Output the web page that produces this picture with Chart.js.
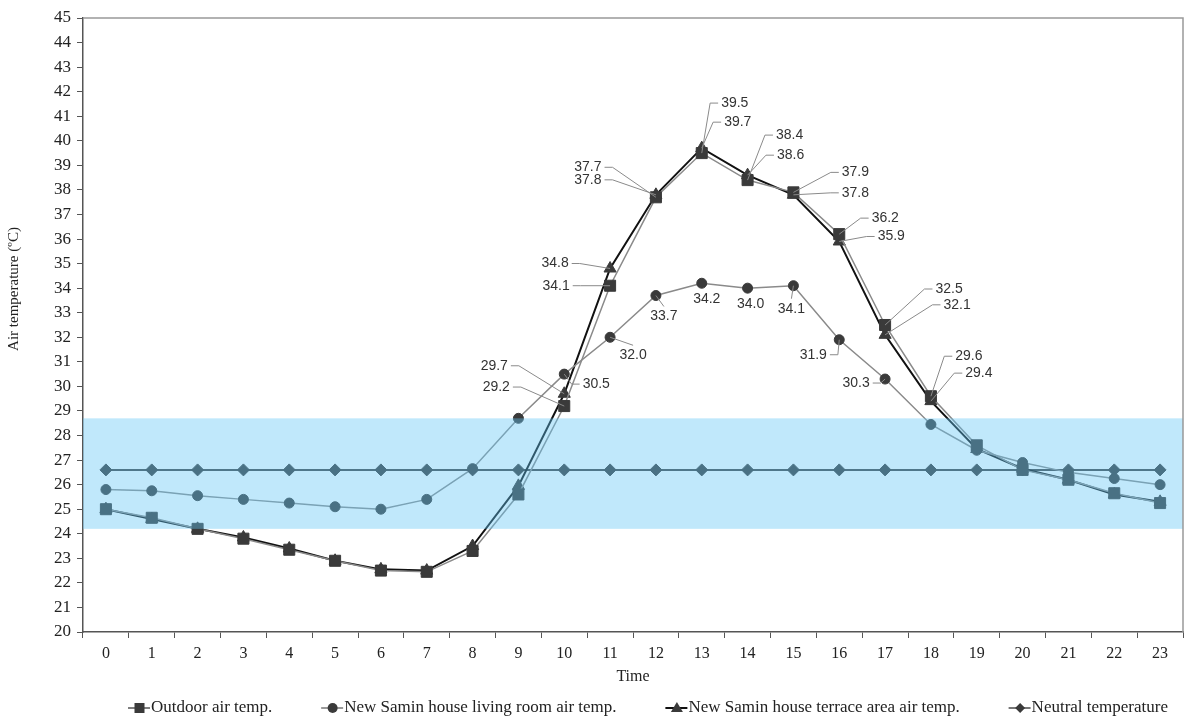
<!DOCTYPE html>
<html lang="en">
<head>
    <meta charset="UTF-8">
    <title>Air temperature - New Samin house</title>
    <script src="https://cdn.jsdelivr.net/npm/chart.js@4.4.0/dist/chart.umd.min.js"></script>
    <style>
        html, body { margin: 0; padding: 0; background: #fff; }
        #wrap { width: 1198px; height: 717px; position: relative; }
    </style>
</head>
<body>
    <div id="wrap"><canvas id="tempChart"></canvas></div>

    <script>
        // hourly values
        const hours = ['0','1','2','3','4','5','6','7','8','9','10','11','12','13','14','15','16','17','18','19','20','21','22','23'];
        const outdoorTemp = [25.0, 24.65, 24.2, 23.8, 23.35, 22.9, 22.5, 22.45, 23.3, 25.6, 29.2, 34.1, 37.7, 39.5, 38.4, 37.9, 36.2, 32.5, 29.6, 27.6, 26.6, 26.2, 25.65, 25.25];
        const livingTemp = [25.8, 25.75, 25.55, 25.4, 25.25, 25.1, 25.0, 25.4, 26.65, 28.7, 30.5, 32.0, 33.7, 34.2, 34.0, 34.1, 31.9, 30.3, 28.45, 27.4, 26.9, 26.5, 26.25, 26.0];
        const terraceTemp = [25.0, 24.6, 24.2, 23.85, 23.4, 22.9, 22.55, 22.5, 23.5, 25.95, 29.7, 34.8, 37.8, 39.7, 38.6, 37.8, 35.9, 32.1, 29.4, 27.45, 26.65, 26.2, 25.6, 25.3];
        const neutralTemp = [26.6, 26.6, 26.6, 26.6, 26.6, 26.6, 26.6, 26.6, 26.6, 26.6, 26.6, 26.6, 26.6, 26.6, 26.6, 26.6, 26.6, 26.6, 26.6, 26.6, 26.6, 26.6, 26.6, 26.6];
        const comfortLow = 24.2;
        const comfortHigh = 28.7;
        const yMin = 20, yMax = 45;

        const seriesNames = ['Outdoor air temp.', 'New Samin house living room air temp.', 'New Samin house terrace area air temp.', 'Neutral temperature'];
        const yTitle = 'Air temperature (ºC)';

        // value callouts: which series / hour, where the text sits relative to the point
        const callouts = [
            { set: 2, i: 10, dx: -70, dy: -28 },
            { set: 0, i: 10, dx: -68, dy: -19 },
            { set: 1, i: 10, dx: 32, dy: 10 },
            { set: 2, i: 11, dx: -55, dy: -5 },
            { set: 0, i: 11, dx: -54, dy: 0 },
            { set: 1, i: 11, dx: 23, dy: 18, below: true },
            { set: 0, i: 12, dx: -68, dy: -30 },
            { set: 2, i: 12, dx: -68, dy: -15 },
            { set: 1, i: 12, dx: 8, dy: 21, below: true },
            { set: 0, i: 13, dx: 33, dy: -50 },
            { set: 2, i: 13, dx: 36, dy: -26 },
            { set: 1, i: 13, dx: 5, dy: 16, noLine: true },
            { set: 0, i: 14, dx: 42, dy: -45 },
            { set: 2, i: 14, dx: 43, dy: -20 },
            { set: 1, i: 14, dx: 3, dy: 16, noLine: true },
            { set: 0, i: 15, dx: 62, dy: -20 },
            { set: 2, i: 15, dx: 62, dy: -2 },
            { set: 1, i: 15, dx: -2, dy: 23, below: true },
            { set: 0, i: 16, dx: 46, dy: -16 },
            { set: 2, i: 16, dx: 52, dy: -5 },
            { set: 1, i: 16, dx: -26, dy: 15 },
            { set: 0, i: 17, dx: 64, dy: -36 },
            { set: 2, i: 17, dx: 72, dy: -30 },
            { set: 1, i: 17, dx: -29, dy: 4 },
            { set: 0, i: 18, dx: 38, dy: -40 },
            { set: 2, i: 18, dx: 48, dy: -28 }
        ];

        const serif = "'Liberation Serif', 'Times New Roman', serif";
        const sans = "'Liberation Sans', Arial, sans-serif";
        const ink = '#3a3a3a';

        // light blue comfort band, laid over the lines like in the original
        const comfortBand = {
            id: 'comfortBand',
            afterDatasetsDraw(chart) {
                const { ctx, chartArea, scales } = chart;
                const top = scales.y.getPixelForValue(comfortHigh);
                const bottom = scales.y.getPixelForValue(comfortLow);
                ctx.save();
                ctx.fillStyle = 'rgba(98, 197, 245, 0.4)';
                ctx.fillRect(chartArea.left, top, chartArea.right - chartArea.left, bottom - top);
                ctx.restore();
            }
        };

        // top/right frame + y title (sits a bit above the axis middle in the original)
        const frame = {
            id: 'frame',
            afterDraw(chart) {
                const { ctx, chartArea } = chart;
                ctx.save();
                ctx.strokeStyle = '#999';
                ctx.lineWidth = 1.5;
                ctx.beginPath();
                ctx.moveTo(chartArea.left, chartArea.top);
                ctx.lineTo(chartArea.right, chartArea.top);
                ctx.lineTo(chartArea.right, chartArea.bottom);
                ctx.stroke();

                ctx.translate(14, 289);
                ctx.rotate(-Math.PI / 2);
                ctx.font = '15px ' + serif;
                ctx.fillStyle = '#222';
                ctx.textAlign = 'center';
                ctx.textBaseline = 'middle';
                ctx.fillText(yTitle, 0, 0);
                ctx.restore();
            }
        };

        const valueCallouts = {
            id: 'valueCallouts',
            afterDraw(chart) {
                const ctx = chart.ctx;
                ctx.save();
                ctx.font = '14px ' + sans;
                ctx.textAlign = 'center';
                ctx.textBaseline = 'middle';
                ctx.strokeStyle = '#8a8a8a';
                ctx.lineWidth = 1;
                callouts.forEach(c => {
                    const pt = chart.getDatasetMeta(c.set).data[c.i];
                    const value = chart.data.datasets[c.set].data[c.i];
                    const text = value.toFixed(1);
                    const tx = pt.x + c.dx, ty = pt.y + c.dy;
                    const w = ctx.measureText(text).width;
                    if (!c.noLine) {
                        ctx.beginPath();
                        ctx.moveTo(pt.x, pt.y);
                        if (c.below) {
                            ctx.lineTo(tx, ty - 10);
                        } else if (c.dx > 0) {
                            const ax = tx - w / 2 - 3;
                            ctx.lineTo(ax - 8, ty);
                            ctx.lineTo(ax, ty);
                        } else {
                            const ax = tx + w / 2 + 3;
                            ctx.lineTo(ax + 8, ty);
                            ctx.lineTo(ax, ty);
                        }
                        ctx.stroke();
                    }
                    ctx.fillStyle = '#333';
                    ctx.fillText(text, tx, ty);
                });
                ctx.restore();
            }
        };

        function marker(ctx, style, x, y) {
            ctx.beginPath();
            if (style === 'rect') {
                ctx.rect(x - 5, y - 5, 10, 10);
            } else if (style === 'circle') {
                ctx.arc(x, y, 5, 0, Math.PI * 2);
            } else if (style === 'triangle') {
                ctx.moveTo(x, y - 6);
                ctx.lineTo(x + 6, y + 4);
                ctx.lineTo(x - 6, y + 4);
                ctx.closePath();
            } else {
                ctx.moveTo(x, y - 5);
                ctx.lineTo(x + 5, y);
                ctx.lineTo(x, y + 5);
                ctx.lineTo(x - 5, y);
                ctx.closePath();
            }
            ctx.fill();
        }

        // legend: line + marker + label, spread across the bottom
        const bottomLegend = {
            id: 'bottomLegend',
            afterDraw(chart) {
                const ctx = chart.ctx;
                const y = 708, startX = 128, endX = 1168, sym = 23;
                ctx.save();
                ctx.font = '17px ' + serif;
                ctx.textBaseline = 'middle';
                const ds = chart.data.datasets;
                const widths = ds.map(d => sym + ctx.measureText(d.label).width);
                const gap = (endX - startX - widths.reduce((a, b) => a + b, 0)) / (ds.length - 1);
                let x = startX;
                ds.forEach((d, k) => {
                    ctx.strokeStyle = d.legendLine;
                    ctx.lineWidth = d.borderWidth;
                    ctx.beginPath();
                    ctx.moveTo(x, y);
                    ctx.lineTo(x + sym - 1, y);
                    ctx.stroke();
                    ctx.fillStyle = ink;
                    marker(ctx, d.pointStyle, x + sym / 2, y);
                    ctx.fillStyle = '#222';
                    ctx.fillText(d.label, x + sym, y);
                    x += widths[k] + gap;
                });
                ctx.restore();
            }
        };

        new Chart(document.getElementById('tempChart'), {
            type: 'line',
            data: {
                labels: hours,
                datasets: [
                    {
                        label: seriesNames[0],
                        data: outdoorTemp,
                        borderColor: '#8a8a8a',
                        legendLine: '#555',
                        borderWidth: 1.5,
                        pointStyle: 'rect',
                        pointRadius: 7.8,
                        pointBackgroundColor: ink,
                        pointBorderColor: ink,
                        pointBorderWidth: 1
                    },
                    {
                        label: seriesNames[1],
                        data: livingTemp,
                        borderColor: '#8a8a8a',
                        legendLine: '#777',
                        borderWidth: 1.5,
                        pointStyle: 'circle',
                        pointRadius: 5,
                        pointBackgroundColor: ink,
                        pointBorderColor: ink,
                        pointBorderWidth: 1
                    },
                    {
                        label: seriesNames[2],
                        data: terraceTemp,
                        borderColor: '#111',
                        legendLine: '#111',
                        borderWidth: 2,
                        pointStyle: 'triangle',
                        pointRadius: 7,
                        pointBackgroundColor: ink,
                        pointBorderColor: ink,
                        pointBorderWidth: 1
                    },
                    {
                        label: seriesNames[3],
                        data: neutralTemp,
                        borderColor: '#444',
                        legendLine: '#777',
                        borderWidth: 2,
                        pointStyle: 'rectRot',
                        pointRadius: 6,
                        pointBackgroundColor: ink,
                        pointBorderColor: ink,
                        pointBorderWidth: 1
                    }
                ]
            },
            options: {
                responsive: true,
                maintainAspectRatio: false,
                animation: false,
                layout: { padding: { top: 18, right: 15, bottom: 27, left: 0 } },
                elements: { line: { tension: 0 } },
                plugins: {
                    legend: { display: false },
                    tooltip: { enabled: false }
                },
                scales: {
                    x: {
                        offset: true,
                        afterFit(scale) { scale.height = 58; },
                        grid: { offset: true, drawOnChartArea: false, drawTicks: true, tickLength: 6, color: '#555' },
                        border: { color: '#555', width: 1.5 },
                        ticks: { color: '#222', font: { family: serif, size: 16 }, maxRotation: 0, autoSkip: false, padding: 6 },
                        title: { display: true, text: 'Time', color: '#222', font: { family: serif, size: 16 }, padding: { top: 7, bottom: 4 } }
                    },
                    y: {
                        min: yMin,
                        max: yMax,
                        afterFit(scale) { scale.width = 83; },
                        grid: { drawOnChartArea: false, drawTicks: true, tickLength: 6, color: '#555' },
                        border: { color: '#555', width: 1.5 },
                        ticks: { stepSize: 1, color: '#222', font: { family: serif, size: 17 }, padding: 6 }
                    }
                }
            },
            plugins: [comfortBand, frame, valueCallouts, bottomLegend]
        });
    </script>
</body>
</html>
